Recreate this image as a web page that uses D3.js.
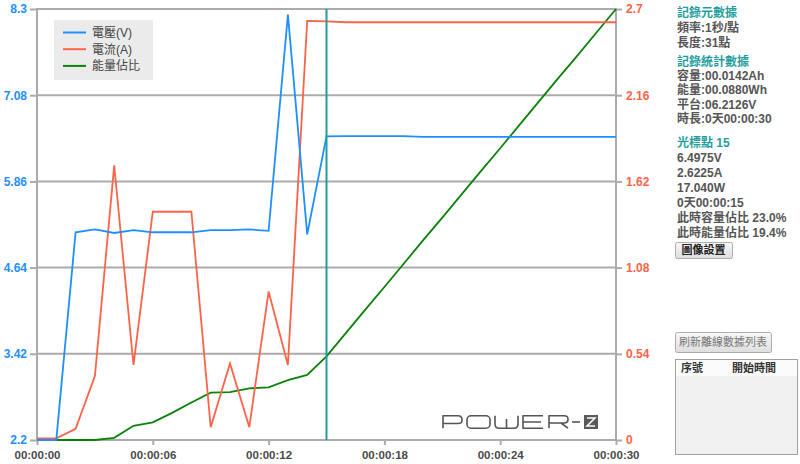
<!DOCTYPE html>
<html><head><meta charset="utf-8">
<script src="https://cdn.jsdelivr.net/npm/d3@7"></script>
<style>
html,body{margin:0;padding:0;background:#fff;}
svg{display:block;}
</style></head>
<body>
<svg id="c" width="800" height="464"></svg>
<script>
const seconds = [0,1,2,3,4,5,6,7,8,9,10,11,12,13,14,15,16,17,18,19,20,21,22,23,24,25,26,27,28,29,30];
const voltage = [2.2,2.2,5.14,5.18,5.13,5.17,5.14,5.14,5.14,5.17,5.17,5.18,5.16,8.22,5.11,6.4975,6.50,6.50,6.50,6.50,6.49,6.49,6.49,6.49,6.49,6.49,6.49,6.49,6.49,6.49,6.49];
const current = [0.01,0.01,0.07,0.40,1.72,0.47,1.43,1.43,1.43,0.08,0.48,0.08,0.93,0.47,2.625,2.6225,2.617,2.617,2.617,2.617,2.617,2.617,2.617,2.617,2.617,2.617,2.617,2.617,2.617,2.617,2.617];
const energyPct = [0,0,0,0,0.5,3.3,4.1,6.3,8.7,11.0,11.1,12.0,12.2,13.9,15.1,19.4,24.8,30.2,35.5,40.9,46.3,51.6,57.0,62.4,67.7,73.1,78.5,83.9,89.2,94.6,100];
const leftTicks = [2.2,3.42,4.64,5.86,7.08,8.3];
const rightTicks = [0,0.54,1.08,1.62,2.16,2.7];
const xTicks = [0,6,12,18,24,30];
const xTickLabels = ["00:00:00","00:00:06","00:00:12","00:00:18","00:00:24","00:00:30"];
const seriesNames = ["電壓(V)","電流(A)","能量佔比"];
const cursorIndex = 15;
const panelMeta = ["頻率:1秒/點","長度:31點"];
const panelStats = ["容量:00.0142Ah","能量:00.0880Wh","平台:06.2126V","時長:0天00:00:30"];
const panelCursor = ["6.4975V","2.6225A","17.040W","0天00:00:15","此時容量佔比 23.0%","此時能量佔比 19.4%"];

const C_BLUE="#1e8fff", C_RED="#ff6347", C_GREEN="#0a820a", C_TEAL="#1f9e9e", C_GRID="#ababab";
const FONT="'Liberation Sans','Noto Sans CJK TC',sans-serif";
const svg = d3.select("#c");
const L=37,R=616,T=9,B=440;
const x = d3.scaleLinear().domain([0,30]).range([L,R]);
const yV = d3.scaleLinear().domain([2.2,8.3]).range([B,T]);
const yA = d3.scaleLinear().domain([0,2.7]).range([B,T]);
const yE = d3.scaleLinear().domain([0,100]).range([B,T]);

// gridlines
svg.append("g").selectAll("line").data(leftTicks).join("line")
  .attr("x1",L).attr("x2",R).attr("y1",d=>yV(d)).attr("y2",d=>yV(d))
  .attr("stroke",C_GRID).attr("stroke-width",2);
// borders
svg.append("line").attr("x1",L).attr("x2",L).attr("y1",T-1).attr("y2",B+1).attr("stroke",C_GRID).attr("stroke-width",2);
svg.append("line").attr("x1",R).attr("x2",R).attr("y1",T-1).attr("y2",B+1).attr("stroke",C_GRID).attr("stroke-width",2);

// axes
const axL = svg.append("g").attr("transform",`translate(${L},0)`)
  .call(d3.axisLeft(yV).tickValues(leftTicks).tickSize(7).tickPadding(3).tickFormat(d=>String(d)));
axL.select(".domain").remove();
axL.selectAll("line").attr("stroke",C_GRID).attr("stroke-width",2);
axL.selectAll("text").attr("fill",C_BLUE).attr("font-family",FONT).attr("font-weight","bold").attr("font-size",12);

const axR = svg.append("g").attr("transform",`translate(${R},0)`)
  .call(d3.axisRight(yA).tickValues(rightTicks).tickSize(6).tickPadding(4).tickFormat(d=>String(d)));
axR.select(".domain").remove();
axR.selectAll("line").attr("stroke",C_GRID).attr("stroke-width",2);
axR.selectAll("text").attr("fill",C_RED).attr("font-family",FONT).attr("font-weight","bold").attr("font-size",12);

const axB = svg.append("g").attr("transform",`translate(0,${B})`)
  .call(d3.axisBottom(x).tickValues(xTicks).tickSize(5).tickPadding(6).tickFormat((d,i)=>xTickLabels[i]));
axB.select(".domain").attr("stroke",C_GRID).attr("stroke-width",2).attr("d",`M${L},0H${R}`);
axB.selectAll("line").attr("stroke",C_GRID).attr("stroke-width",2);
axB.selectAll("text").attr("fill","#4a4a4a").attr("font-family",FONT).attr("font-weight","bold").attr("font-size",11.5);

// logo (POWER-Z wordmark drawn as strokes)
const logo = svg.append("g").attr("fill","none").attr("stroke","#555").attr("stroke-width",1.6).attr("stroke-linejoin","round");
const t0=415.8, b0=428.2;
logo.append("path").attr("d",`M443,${b0}V${t0}H458Q462,${t0} 462,419.5V420.5Q462,423.5 458,423.5H443`);
logo.append("rect").attr("x",467).attr("y",t0).attr("width",23).attr("height",b0-t0).attr("rx",4);
logo.append("path").attr("d",`M495,${t0}V424Q495,${b0} 499,${b0}H514Q518,${b0} 518,424V${t0}M506.5,419V${b0}`);
logo.append("path").attr("d",`M543,${t0}H523V${b0}H543M523,422H541`);
logo.append("path").attr("d",`M549,${b0}V${t0}H564Q568,${t0} 568,419V419.5Q568,423 564,423H549M561,423L568,${b0}`);
logo.append("path").attr("d","M572,422H580");
svg.append("rect").attr("x",584).attr("y",415).attr("width",14).attr("height",14).attr("fill","#5a5a5a");
svg.append("path").attr("d","M587,418H595L587,426H595").attr("fill","none").attr("stroke","#fff").attr("stroke-width",1.5);

// lines
const pts = (arr,ys)=>seconds.map((s,i)=>[x(s),ys(arr[i])]);
const line = d3.line();
svg.append("path").attr("d",line(pts(energyPct,yE))).attr("fill","none").attr("stroke",C_GREEN).attr("stroke-width",1.8);
svg.append("path").attr("d",line(pts(current,yA))).attr("fill","none").attr("stroke",C_RED).attr("stroke-width",1.8);
svg.append("path").attr("d",line(pts(voltage,yV))).attr("fill","none").attr("stroke",C_BLUE).attr("stroke-width",1.8);

// cursor
svg.append("line").attr("x1",x(seconds[cursorIndex])).attr("x2",x(seconds[cursorIndex]))
  .attr("y1",T).attr("y2",B).attr("stroke",C_TEAL).attr("stroke-width",2);

// legend
const lg = svg.append("g");
lg.append("rect").attr("x",54).attr("y",20).attr("width",99).attr("height",60).attr("fill","#ebebeb");
const lcol=[C_BLUE,C_RED,C_GREEN];
seriesNames.forEach((n,i)=>{
  const yy=32.5+i*16.7;
  lg.append("line").attr("x1",63).attr("x2",86).attr("y1",yy).attr("y2",yy).attr("stroke",lcol[i]).attr("stroke-width",2);
  lg.append("text").attr("x",92).attr("y",yy+4.5).text(n).attr("font-family",FONT).attr("font-size",12).attr("fill","#444");
});

// right panel
const P = svg.append("g").attr("font-family",FONT).attr("font-size",12).attr("font-weight","bold");
const txt=(t,xx,yy,col)=>P.append("text").attr("x",xx).attr("y",yy).attr("dy","0.35em").text(t).attr("fill",col);
txt("記錄元數據",677,13,C_TEAL);
panelMeta.forEach((t,i)=>txt(t,677,28+i*14.5,"#555"));
txt("記錄統計數據",677,62,C_TEAL);
panelStats.forEach((t,i)=>txt(t,677,75.5+i*14.5,"#555"));
txt("光標點 15",677,143,C_TEAL);
panelCursor.forEach((t,i)=>txt(t,677,158+i*15,"#555"));

// buttons
const btn=(x0,y0,w,h,label,col,weight)=>{
  const g=svg.append("g");
  const grad=`g${x0}${y0}`;
  const lgd=svg.append("defs").append("linearGradient").attr("id",grad).attr("x1",0).attr("x2",0).attr("y1",0).attr("y2",1);
  lgd.append("stop").attr("offset","0").attr("stop-color","#f8f8f8");
  lgd.append("stop").attr("offset","1").attr("stop-color","#dedede");
  g.append("rect").attr("x",x0+0.5).attr("y",y0+0.5).attr("width",w).attr("height",h).attr("rx",2)
   .attr("fill",`url(#${grad})`).attr("stroke","#adadad");
  g.append("text").attr("x",x0+w/2).attr("y",y0+h/2+0.5).attr("dy","0.35em").attr("text-anchor","middle")
   .text(label).attr("font-family",FONT).attr("font-size",11).attr("font-weight",weight).attr("fill",col);
};
btn(675,242,57,16,"圖像設置","#222","bold");
btn(675,332,96,20,"刷新離線數據列表","#777","normal");

// table
svg.append("rect").attr("x",675.5).attr("y",359.5).attr("width",122).attr("height",95).attr("fill","#f0f0f0").attr("stroke","#a0a0a0");
svg.append("rect").attr("x",676).attr("y",360).attr("width",121).attr("height",16).attr("fill","#fbfbfb");
svg.append("text").attr("x",681).attr("y",368).attr("dy","0.35em").text("序號").attr("font-family",FONT).attr("font-size",11).attr("font-weight","bold").attr("fill","#333");
svg.append("text").attr("x",732).attr("y",368).attr("dy","0.35em").text("開始時間").attr("font-family",FONT).attr("font-size",11).attr("font-weight","bold").attr("fill","#333");
</script>
</body></html>
